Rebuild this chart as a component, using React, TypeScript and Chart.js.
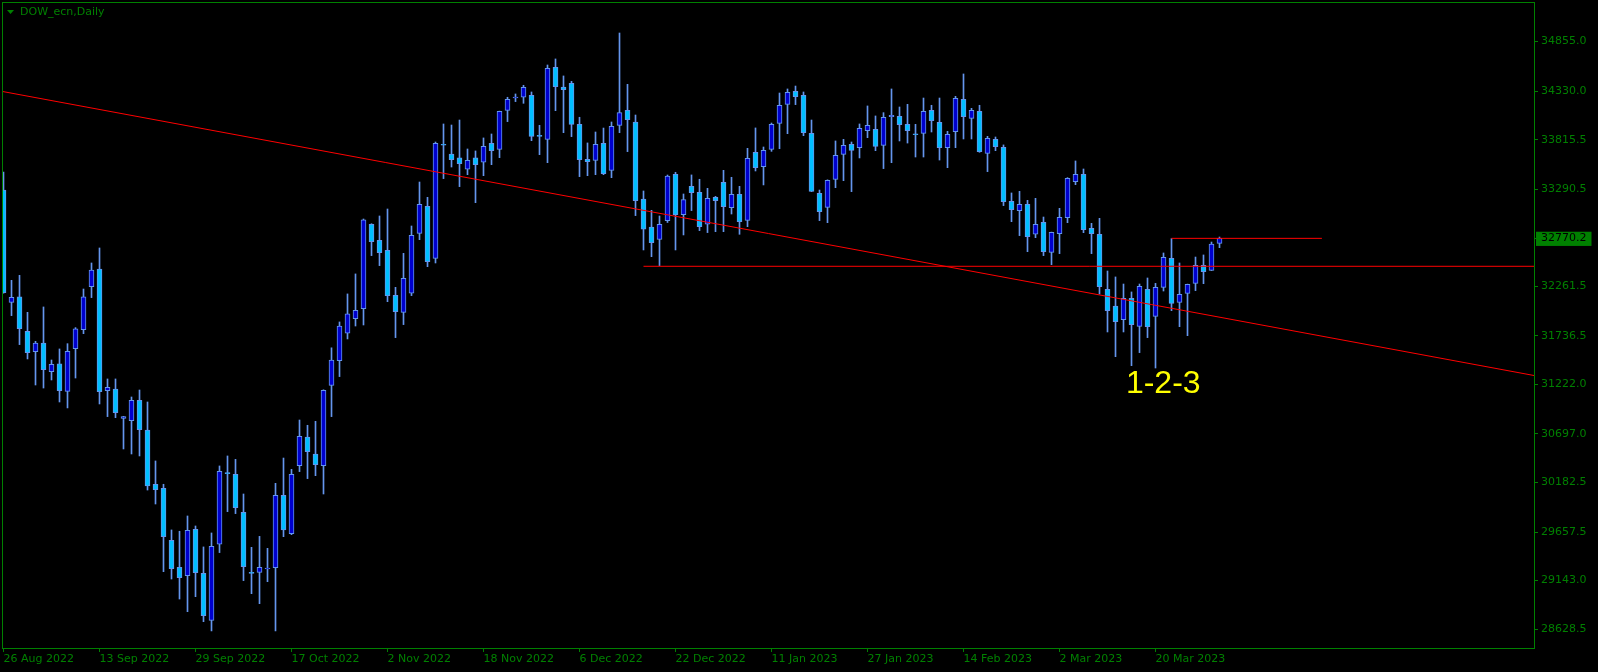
import { useEffect, useRef } from 'react';
import { Chart, registerables } from 'chart.js';

Chart.register(...registerables);

// ---- Daily candles DOW_ecn, 26 Aug 2022 .. 29 Mar 2023 (bar index 0..152) ----
const opens = [
  33282, 32092, 32149, 31785, 31569, 31661, 31358, 31439, 31149, 31601,
  31803, 32258, 32445, 31156, 31174, 30863, 30838, 31054, 30739, 30164,
  30121, 29570, 29284, 29196, 29687, 29221, 28722, 29528, 30284, 30269,
  29867, 29228, 29231, 29266, 29280, 30047, 29641, 30361, 30665, 30485,
  30361, 31211, 31474, 31764, 31919, 32025, 32919, 32749, 32643, 32166,
  31986, 32188, 32823, 33109, 32558, 33765, 33664, 33622, 33502, 33622,
  33576, 33777, 33713, 34127, 34257, 34265, 34286, 33859, 33819, 34582,
  34374, 34413, 33978, 33608, 33597, 33777, 33491, 33968, 34127, 34003,
  33187, 32890, 32758, 32958, 33449, 33021, 33321, 33258, 32919, 33205,
  33364, 33095, 33237, 32961, 33682, 33530, 33713, 33989, 34190, 34328,
  34286, 33883, 33247, 33099, 33395, 33660, 33766, 33731, 33911, 33925,
  33756, 34060, 34063, 33978, 33876, 33883, 34127, 33999, 33731, 33901,
  34243, 34042, 34116, 33671, 33819, 33735, 33162, 33063, 33131, 32813,
  32940, 32622, 32820, 32989, 33371, 33448, 32876, 32813, 32230, 32053,
  31908, 32134, 31838, 32230, 31944, 32251, 32558, 32092, 32187, 32293,
  32484, 32431, 32717,
];
const highs = [
  33473, 32325, 32378, 31986, 31679, 32043, 31481, 31598, 31654, 31824,
  32233, 32509, 32668, 31280, 31280, 30884, 31089, 31163, 31036, 30411,
  30164, 29680, 29666, 29828, 29722, 29500, 29648, 30358, 30464, 30428,
  30061, 29496, 29612, 29485, 30174, 30442, 30322, 30845, 30789, 30831,
  31165, 31610, 31884, 32181, 32393, 32975, 32925, 33007, 33081, 32251,
  32611, 32901, 33367, 33205, 33791, 33982, 33971, 34024, 33717, 33696,
  33834, 33876, 34118, 34265, 34300, 34392, 34321, 33968, 34607, 34671,
  34491, 34434, 34053, 33781, 33897, 33939, 34003, 34946, 34402, 34077,
  33272, 33067, 33007, 33441, 33470, 33240, 33442, 33396, 33300, 33215,
  33491, 33417, 33321, 33724, 33940, 33738, 33992, 34310, 34353, 34384,
  34321, 34024, 33282, 33390, 33802, 33819, 33791, 33982, 34173, 34067,
  34102, 34353, 34162, 34190, 33978, 34257, 34180, 34257, 33904, 34275,
  34512, 34148, 34180, 33851, 33844, 33760, 33251, 33268, 33173, 33194,
  32996, 32836, 33088, 33413, 33590, 33505, 32929, 32982, 32424, 32361,
  32286, 32202, 32286, 32350, 32293, 32615, 32767, 32509, 32285, 32572,
  32594, 32731, 32784,
];
const lows = [
  32188, 31951, 31644, 31492, 31216, 31184, 31269, 31036, 30973, 31290,
  31760, 32142, 31015, 30881, 30870, 30538, 30485, 30464, 30103, 29955,
  29238, 29160, 28948, 28814, 28973, 28708, 28610, 29440, 29874, 29853,
  29143, 29005, 28899, 29132, 28610, 29609, 29630, 30298, 30224, 30255,
  30061, 30881, 31305, 31704, 31841, 31852, 32587, 32481, 32099, 31718,
  31856, 32163, 32756, 32470, 32509, 33403, 33526, 33318, 33445, 33148,
  33434, 33551, 33625, 34007, 34219, 34201, 33805, 33657, 33572, 34123,
  33890, 33848, 33424, 33434, 33445, 33445, 33413, 33890, 33689, 33011,
  32647, 32576, 32481, 32938, 32647, 32806, 33064, 32852, 32831, 32841,
  32841, 33028, 32813, 32894, 33484, 33336, 33692, 33720, 33879, 34187,
  33858, 33265, 32958, 32936, 33307, 33381, 33265, 33622, 33837, 33699,
  33509, 33572, 33802, 33780, 33632, 33632, 33897, 33600, 33519, 33731,
  33823, 33823, 33682, 33477, 33699, 33117, 32947, 32799, 32629, 32777,
  32587, 32491, 32608, 32936, 33339, 32830, 32608, 32180, 31778, 31516,
  31778, 31421, 31559, 31718, 31396, 32212, 32004, 31834, 31739, 32216,
  32290, 32429, 32671,
];
const closes = [
  32195, 32145, 31813, 31559, 31661, 31379, 31435, 31156, 31573, 31810,
  32149, 32435, 31146, 31191, 30923, 30881, 31054, 30743, 30146, 30107,
  29609, 29270, 29175, 29676, 29228, 28772, 29507, 30301, 30276, 29916,
  29291, 29220, 29284, 29273, 30047, 29680, 30269, 30672, 30510, 30372,
  31160, 31479, 31841, 31969, 32007, 32965, 32735, 32619, 32163, 31993,
  32347, 32802, 33131, 32523, 33777, 33757, 33604, 33562, 33597, 33551,
  33745, 33699, 34116, 34243, 34265, 34370, 33851, 33851, 34572, 34377,
  34346, 33978, 33604, 33583, 33766, 33456, 33957, 34102, 34028, 33170,
  32866, 32725, 32919, 33429, 33021, 33180, 33254, 32894, 33194, 33170,
  33106, 33237, 32947, 33618, 33519, 33703, 33978, 34180, 34317, 34271,
  33890, 33268, 33053, 33385, 33650, 33756, 33703, 33936, 33968, 33745,
  34052, 34074, 33975, 33911, 33868, 34116, 34017, 33731, 33872, 34254,
  34060, 34127, 33689, 33830, 33742, 33159, 33074, 33131, 32788, 32919,
  32629, 32834, 32993, 33406, 33448, 32862, 32820, 32258, 32004, 31887,
  32134, 31855, 32262, 31834, 32251, 32569, 32081, 32177, 32283, 32484,
  32417, 32710, 32770,
];

// ---- axis ticks ----
const dateTickIndex = [0, 12, 24, 36, 48, 60, 72, 84, 96, 108, 120, 132, 144];
const dateTickLabels = [
  '26 Aug 2022', '13 Sep 2022', '29 Sep 2022', '17 Oct 2022', '2 Nov 2022',
  '18 Nov 2022', '6 Dec 2022', '22 Dec 2022', '11 Jan 2023', '27 Jan 2023',
  '14 Feb 2023', '2 Mar 2023', '20 Mar 2023',
];
const priceTicks = [
  34855.0, 34330.0, 33815.5, 33290.5, 32770.2, 32261.5, 31736.5, 31222.0,
  30697.0, 30182.5, 29657.5, 29143.0, 28628.5,
];
const currentPrice = 32770.2;

// ---- drawn objects ----
const trendBars = [-1, 193];
const trendPrices = [34340, 31290];
const supportBars = [80, 193];
const supportPrices = [32474, 32474];
const resistBars = [146, 164.8];
const resistPrices = [32770, 32770];
const patternLabel = '1-2-3';
const patternBar = 140.3;
const patternPrice = 31230;
const chartTitle = 'DOW_ecn,Daily';

const GREEN = '#008000';
const WICK = '#6495ED';
const BULL = '#0000CD';
const BEAR = '#00BFFF';
const RED = '#FF0000';
const FONT = 'DejaVu Sans';

const X_MIN = -0.0625;
const X_MAX = X_MIN + 1531 / 8;
const Y_MIN = 28429;
const Y_MAX = 35264;

export default function App() {
  const ref = useRef<HTMLCanvasElement | null>(null);

  useEffect(() => {
    document.body.style.margin = '0';
    document.body.style.background = '#000';
    const canvas = ref.current;
    if (!canvas) return;

    const bodyData = opens.map((o, i) => ({ x: i, y: [o, closes[i]] }));
    const wickData = opens.map((_, i) => ({ x: i, y: [lows[i], highs[i]] }));
    const bodyColors = opens.map((o, i) => (closes[i] >= o ? BULL : BEAR));

    const framePlugin = {
      id: 'mtFrame',
      beforeDraw(chart: any) {
        const ctx = chart.ctx;
        ctx.save();
        ctx.fillStyle = '#000000';
        ctx.fillRect(0, 0, chart.width, chart.height);
        ctx.restore();
      },
      afterDatasetsDraw(chart: any) {
        const ctx = chart.ctx;
        const xs = chart.scales.x;
        const ys = chart.scales.y;
        ctx.save();
        ctx.fillStyle = '#FFFF00';
        ctx.font = '32px "Liberation Sans"';
        ctx.textAlign = 'left';
        ctx.textBaseline = 'middle';
        ctx.fillText(patternLabel, xs.getPixelForValue(patternBar), ys.getPixelForValue(patternPrice));
        ctx.restore();
      },
      afterDraw(chart: any) {
        const ctx = chart.ctx;
        const a = chart.chartArea;
        ctx.save();
        ctx.strokeStyle = GREEN;
        ctx.lineWidth = 1;
        ctx.strokeRect(a.left - 0.5, a.top - 0.5, a.right - a.left + 1, a.bottom - a.top + 1);
        // title
        ctx.fillStyle = GREEN;
        ctx.beginPath();
        ctx.moveTo(7, 10);
        ctx.lineTo(14, 10);
        ctx.lineTo(10.5, 14);
        ctx.closePath();
        ctx.fill();
        ctx.font = '11px "' + FONT + '"';
        ctx.textAlign = 'left';
        ctx.textBaseline = 'middle';
        ctx.fillText(chartTitle, 20, 12.5);
        ctx.restore();
      },
    };

    const chart = new Chart(canvas, {
      type: 'bar',
      data: {
        datasets: [
          {
            type: 'line',
            label: 'trend',
            data: trendBars.map((b, i) => ({ x: b, y: trendPrices[i] })),
            borderColor: RED,
            borderWidth: 1,
            pointRadius: 0,
            clip: 0,
            order: 0,
          } as any,
          {
            type: 'line',
            label: 'support',
            data: supportBars.map((b, i) => ({ x: b, y: supportPrices[i] })),
            borderColor: RED,
            borderWidth: 1,
            pointRadius: 0,
            clip: 0,
            order: 0,
          } as any,
          {
            type: 'line',
            label: 'resistance',
            data: resistBars.map((b, i) => ({ x: b, y: resistPrices[i] })),
            borderColor: RED,
            borderWidth: 1,
            pointRadius: 0,
            clip: 0,
            order: 0,
          } as any,
          {
            type: 'bar',
            label: 'body',
            data: bodyData as any,
            backgroundColor: bodyColors,
            borderColor: WICK,
            borderWidth: 1,
            borderSkipped: false,
            barThickness: 5,
            minBarLength: 1,
            grouped: false,
            clip: 0,
            order: 1,
          } as any,
          {
            type: 'bar',
            label: 'wick',
            data: wickData as any,
            backgroundColor: WICK,
            borderWidth: 0,
            barThickness: 1,
            grouped: false,
            clip: 0,
            order: 2,
          } as any,
        ],
      },
      options: {
        responsive: false,
        animation: false,
        devicePixelRatio: 1,
        events: [],
        layout: { padding: { left: 3, top: 3, right: 0, bottom: 0 } },
        plugins: { legend: { display: false }, tooltip: { enabled: false }, title: { display: false } },
        scales: {
          x: {
            type: 'linear',
            min: X_MIN,
            max: X_MAX,
            offset: false,
            afterBuildTicks: (s: any) => {
              s.ticks = dateTickIndex.map((v) => ({ value: v }));
            },
            afterFit: (s: any) => {
              s.height = 24;
              s.paddingLeft = 0;
              s.paddingRight = 0;
              s.paddingTop = 0;
              s.paddingBottom = 0;
            },
            grid: { drawOnChartArea: false, drawTicks: true, tickLength: 4, color: GREEN, offset: false },
            border: { display: false },
            ticks: {
              autoSkip: false,
              maxRotation: 0,
              minRotation: 0,
              align: 'start',
              padding: 1,
              color: GREEN,
              font: { family: FONT, size: 11 },
              callback: (v: any) => {
                const k = dateTickIndex.indexOf(Number(v));
                return k >= 0 ? dateTickLabels[k] : '';
              },
            },
          } as any,
          y: {
            type: 'linear',
            position: 'right',
            min: Y_MIN,
            max: Y_MAX,
            afterBuildTicks: (s: any) => {
              s.ticks = priceTicks.map((v) => ({ value: v }));
            },
            afterFit: (s: any) => {
              s.width = 64;
              s.paddingLeft = 0;
              s.paddingRight = 0;
              s.paddingTop = 0;
              s.paddingBottom = 0;
            },
            grid: { drawOnChartArea: false, drawTicks: true, tickLength: 4, color: GREEN },
            border: { display: false },
            ticks: {
              autoSkip: false,
              padding: 3,
              font: { family: FONT, size: 11 },
              color: (c: any) => (c.tick && c.tick.value === currentPrice ? '#000000' : GREEN),
              showLabelBackdrop: true,
              backdropColor: (c: any) => (c.tick && c.tick.value === currentPrice ? GREEN : 'rgba(0,0,0,0)'),
              backdropPadding: { left: 5, right: 5, top: 0, bottom: 1 },
              callback: (v: any) => Number(v).toFixed(1),
            },
          } as any,
        },
      },
      plugins: [framePlugin],
    });

    return () => chart.destroy();
  }, []);

  return (
    <canvas
      ref={ref}
      width={1598}
      height={672}
      style={{ display: 'block', width: '1598px', height: '672px' }}
    />
  );
}
